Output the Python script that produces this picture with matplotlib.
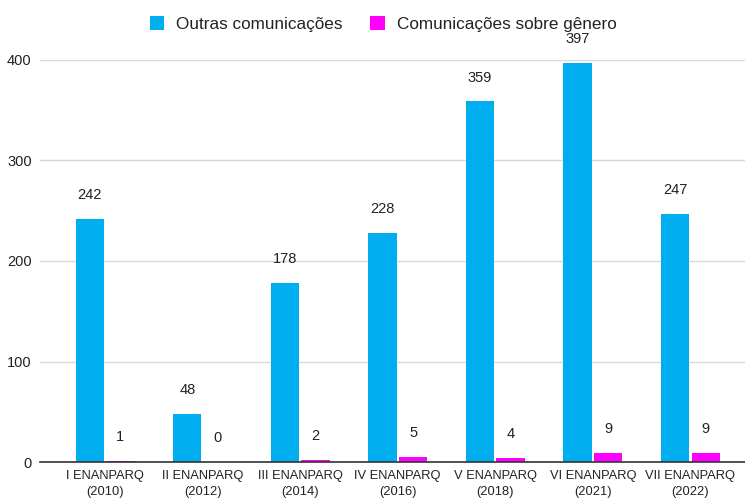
"""Comunicações nos ENANPARQ: outras vs. sobre gênero."""

import numpy as np
import matplotlib

matplotlib.use("Agg")
import matplotlib.pyplot as plt


EDITIONS = [
    "I ENANPARQ\n(2010)",
    "II ENANPARQ\n(2012)",
    "III ENANPARQ\n(2014)",
    "IV ENANPARQ\n(2016)",
    "V ENANPARQ\n(2018)",
    "VI ENANPARQ\n(2021)",
    "VII ENANPARQ\n(2022)",
]
OUTRAS = [242, 48, 178, 228, 359, 397, 247]
GENERO = [1, 0, 2, 5, 4, 9, 9]

BLUE = "#00AEEF"
PINK = "#FF00FF"
TEXT = "#222222"

plt.rcParams["font.family"] = ["Liberation Sans", "DejaVu Sans"]


def main():
    figure = plt.figure(figsize=(7.45, 5.0), dpi=100)
    axes = figure.add_axes([40 / 745, 38 / 500, 705 / 745, 402 / 500])
    _draw_bars(axes)
    _style_axes(axes)
    handles, labels = axes.get_legend_handles_labels()
    figure.legend(
        handles,
        labels,
        loc="center",
        bbox_to_anchor=(383 / 745, 1 - 24 / 500),
        ncol=2,
        frameon=False,
        fontsize=12.3,
        handlelength=0.85,
        handleheight=0.85,
        handletextpad=0.7,
        columnspacing=1.6,
        labelcolor=TEXT,
    )
    figure.savefig("out.png", dpi=100)


def _draw_bars(axes):
    x = np.arange(len(EDITIONS))
    width = 0.29
    offset = 0.157
    series = [
        (OUTRAS, BLUE, "Outras comunicações", -offset),
        (GENERO, PINK, "Comunicações sobre gênero", offset),
    ]
    for values, color, label, shift in series:
        bars = axes.bar(
            x + shift, values, width, color=color, label=label, zorder=3
        )
        for bar, value in zip(bars, values):
            axes.annotate(
                str(value),
                (bar.get_x() + bar.get_width() / 2, value),
                xytext=(0, 17),
                textcoords="offset points",
                ha="center",
                va="center",
                fontsize=10.5,
                color=TEXT,
                annotation_clip=False,
            )


def _style_axes(axes):
    axes.set_xlim(-0.667, 6.56)
    axes.set_ylim(0, 400)
    axes.set_yticks([0, 100, 200, 300, 400])
    axes.set_xticks(np.arange(len(EDITIONS)))
    axes.set_xticklabels(EDITIONS, fontsize=9.3, color=TEXT, linespacing=1.45)
    axes.tick_params(axis="y", length=0, pad=6, labelsize=10.5, labelcolor=TEXT)
    axes.tick_params(axis="x", length=0, pad=6)
    axes.grid(axis="y", color="#d9d9d9", linewidth=1.0, zorder=0)
    for side in ("top", "right", "left"):
        axes.spines[side].set_visible(False)
    axes.spines["bottom"].set_color("#333333")
    axes.spines["bottom"].set_linewidth(1.2)
    axes.spines["bottom"].set_zorder(4)


if __name__ == "__main__":
    main()
